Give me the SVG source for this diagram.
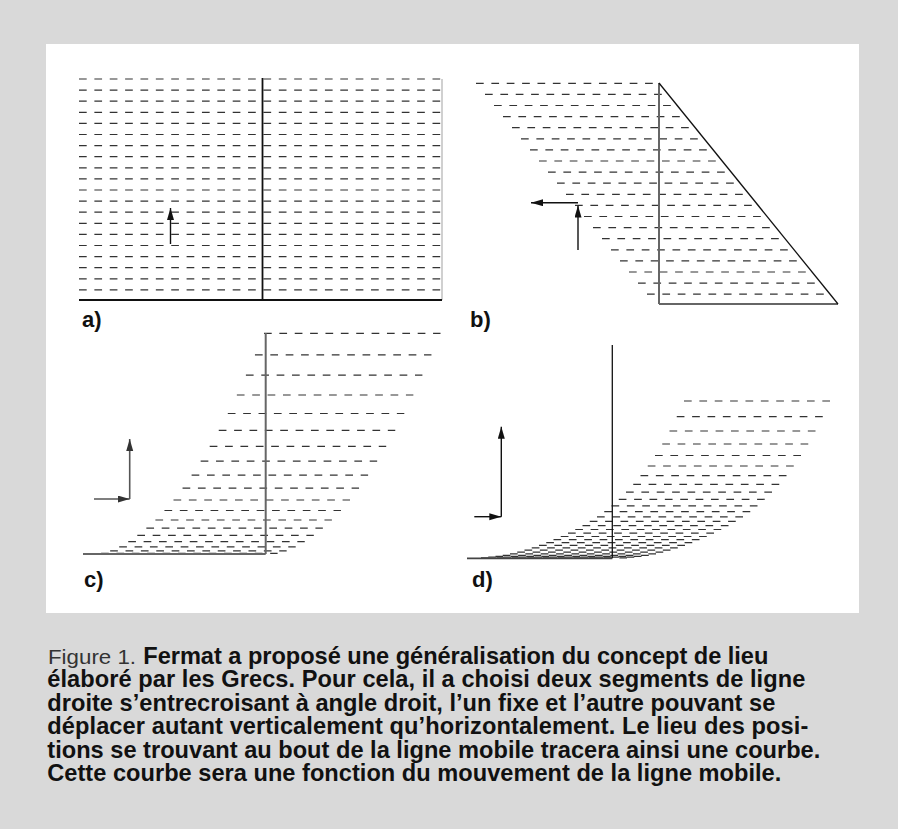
<svg xmlns="http://www.w3.org/2000/svg" width="898" height="829" viewBox="0 0 898 829">
<style>
.dash{stroke:#333;stroke-width:1.2;stroke-dasharray:7.7 7.67;fill:none}
.solid{stroke:#111;stroke-width:1.8;fill:none}
.grey{stroke:#666;stroke-width:2;fill:none}
.thin{stroke:#111;stroke-width:1.3;fill:none}
.arr{stroke:#111;stroke-width:1.4;fill:none;marker-end:url(#ah)}
.arrg{stroke:#555;stroke-width:1.6;fill:none;marker-end:url(#ahg)}
.lbl{font-family:"Liberation Sans",Arial,sans-serif;font-weight:bold;font-size:22px;fill:#111}
.cap{font-family:"Liberation Sans",Arial,sans-serif;font-weight:bold;font-size:23.6px;fill:#111}
.light{font-family:"Liberation Sans",Arial,sans-serif;font-weight:normal;font-size:21px;fill:#333}
</style>
<defs>
<marker id="ah" markerUnits="userSpaceOnUse" markerWidth="13" markerHeight="8" refX="12" refY="3.5" orient="auto"><path d="M0,0 L12,3.5 L0,7 z" fill="#111"/></marker>
<marker id="ahg" markerUnits="userSpaceOnUse" markerWidth="13" markerHeight="8" refX="12" refY="3.5" orient="auto"><path d="M0,0 L12,3.5 L0,7 z" fill="#333"/></marker>
</defs>
<rect x="0" y="0" width="898" height="829" fill="#d9d9d9"/>
<rect x="46" y="44" width="813" height="569" fill="#ffffff"/>

<g id="panel-a">
<g class="dash">
<line x1="79" y1="79" x2="441" y2="79"/>
<line x1="79" y1="90.1" x2="441" y2="90.1"/>
<line x1="79" y1="101.2" x2="441" y2="101.2"/>
<line x1="79" y1="112.3" x2="441" y2="112.3"/>
<line x1="79" y1="123.4" x2="441" y2="123.4"/>
<line x1="79" y1="134.5" x2="441" y2="134.5"/>
<line x1="79" y1="145.6" x2="441" y2="145.6"/>
<line x1="79" y1="156.7" x2="441" y2="156.7"/>
<line x1="79" y1="167.8" x2="441" y2="167.8"/>
<line x1="79" y1="178.9" x2="441" y2="178.9"/>
<line x1="79" y1="190" x2="441" y2="190"/>
<line x1="79" y1="201.1" x2="441" y2="201.1"/>
<line x1="79" y1="212.2" x2="441" y2="212.2"/>
<line x1="79" y1="223.3" x2="441" y2="223.3"/>
<line x1="79" y1="234.4" x2="441" y2="234.4"/>
<line x1="79" y1="245.5" x2="441" y2="245.5"/>
<line x1="79" y1="256.6" x2="441" y2="256.6"/>
<line x1="79" y1="267.7" x2="441" y2="267.7"/>
<line x1="79" y1="278.8" x2="441" y2="278.8"/>
<line x1="79" y1="289.9" x2="441" y2="289.9"/>
</g>
<line class="solid" x1="262.5" y1="78" x2="262.5" y2="300"/>
<line x1="442" y1="79" x2="442" y2="300" stroke="#aaa" stroke-width="1.1"/>
<line class="solid" x1="79" y1="300" x2="442" y2="300"/>
<line class="arr" x1="170.5" y1="244" x2="170.5" y2="208"/>
<text class="lbl" x="82" y="327">a)</text>
</g>

<g id="panel-b">
<g class="dash">
<line x1="476" y1="83.3" x2="654" y2="83.3"/>
<line x1="485" y1="94.4" x2="663" y2="94.4"/>
<line x1="494" y1="105.5" x2="672" y2="105.5"/>
<line x1="503" y1="116.6" x2="681" y2="116.6"/>
<line x1="512" y1="127.7" x2="690" y2="127.7"/>
<line x1="521" y1="138.8" x2="699" y2="138.8"/>
<line x1="530" y1="149.9" x2="708" y2="149.9"/>
<line x1="539" y1="161" x2="717" y2="161"/>
<line x1="548" y1="172.1" x2="726" y2="172.1"/>
<line x1="557" y1="183.2" x2="735" y2="183.2"/>
<line x1="566" y1="194.3" x2="744" y2="194.3"/>
<line x1="575" y1="205.4" x2="753" y2="205.4"/>
<line x1="584" y1="216.5" x2="762" y2="216.5"/>
<line x1="593" y1="227.6" x2="771" y2="227.6"/>
<line x1="602" y1="238.7" x2="780" y2="238.7"/>
<line x1="611" y1="249.8" x2="789" y2="249.8"/>
<line x1="620" y1="260.9" x2="798" y2="260.9"/>
<line x1="629" y1="272" x2="807" y2="272"/>
<line x1="638" y1="283.1" x2="816" y2="283.1"/>
<line x1="647" y1="294.2" x2="825" y2="294.2"/>
</g>
<line class="grey" x1="659" y1="83" x2="659" y2="304"/>
<line class="grey" x1="659" y1="304" x2="838" y2="304"/>
<line class="thin" x1="659" y1="83" x2="838" y2="304"/>
<line class="arr" x1="578" y1="250" x2="578" y2="205.5"/>
<line class="arr" x1="578" y1="202.7" x2="531" y2="202.7"/>
<text class="lbl" x="470" y="327">b)</text>
</g>

<g id="panel-c">
<g class="dash">
<line x1="264" y1="333.3" x2="440.5" y2="333.3"/>
<line x1="254.95" y1="354.8" x2="431.45" y2="354.8"/>
<line x1="245.9" y1="375.2" x2="422.4" y2="375.2"/>
<line x1="236.85" y1="395" x2="413.35" y2="395"/>
<line x1="227.8" y1="413.5" x2="404.3" y2="413.5"/>
<line x1="218.75" y1="430.3" x2="395.25" y2="430.3"/>
<line x1="209.7" y1="446.3" x2="386.2" y2="446.3"/>
<line x1="200.65" y1="461.2" x2="377.15" y2="461.2"/>
<line x1="191.6" y1="475.2" x2="368.1" y2="475.2"/>
<line x1="182.55" y1="488.2" x2="359.05" y2="488.2"/>
<line x1="173.5" y1="500" x2="350" y2="500"/>
<line x1="164.45" y1="510.5" x2="340.95" y2="510.5"/>
<line x1="155.4" y1="520" x2="331.9" y2="520"/>
<line x1="146.35" y1="528.2" x2="322.85" y2="528.2"/>
<line x1="137.3" y1="535.4" x2="313.8" y2="535.4"/>
<line x1="128.25" y1="541.6" x2="304.75" y2="541.6"/>
<line x1="119.2" y1="546.8" x2="295.7" y2="546.8"/>
<line x1="110.15" y1="550.8" x2="286.65" y2="550.8"/>
<line x1="101.1" y1="553.4" x2="277.6" y2="553.4"/>
</g>
<line class="grey" x1="265.7" y1="333" x2="265.7" y2="554"/>
<line class="grey" x1="83" y1="554" x2="265.7" y2="554"/>
<line class="arrg" x1="94" y1="499" x2="129.7" y2="499"/>
<line class="arrg" x1="129.7" y1="499" x2="129.7" y2="439"/>
<text class="lbl" x="84" y="587">c)</text>
</g>

<g id="panel-d">
<g class="dash">
<line x1="684" y1="401" x2="830" y2="401"/>
<line x1="676.75" y1="416.7" x2="822.75" y2="416.7"/>
<line x1="669.5" y1="431" x2="815.5" y2="431"/>
<line x1="662.25" y1="444" x2="808.25" y2="444"/>
<line x1="655" y1="455.5" x2="801" y2="455.5"/>
<line x1="647.75" y1="466" x2="793.75" y2="466"/>
<line x1="640.5" y1="475.6" x2="786.5" y2="475.6"/>
<line x1="633.25" y1="484.3" x2="779.25" y2="484.3"/>
<line x1="626" y1="492.2" x2="772" y2="492.2"/>
<line x1="618.75" y1="499.3" x2="764.75" y2="499.3"/>
<line x1="611.5" y1="505.8" x2="757.5" y2="505.8"/>
<line x1="604.25" y1="511.6" x2="750.25" y2="511.6"/>
<line x1="597" y1="516.8" x2="743" y2="516.8"/>
<line x1="589.75" y1="521.4" x2="735.75" y2="521.4"/>
<line x1="582.5" y1="525.6" x2="728.5" y2="525.6"/>
<line x1="575.25" y1="529.5" x2="721.25" y2="529.5"/>
<line x1="568" y1="533.1" x2="714" y2="533.1"/>
<line x1="560.75" y1="536.5" x2="706.75" y2="536.5"/>
<line x1="553.5" y1="539.7" x2="699.5" y2="539.7"/>
<line x1="546.25" y1="542.7" x2="692.25" y2="542.7"/>
<line x1="539" y1="545.4" x2="685" y2="545.4"/>
<line x1="531.75" y1="547.9" x2="677.75" y2="547.9"/>
<line x1="524.5" y1="550.2" x2="670.5" y2="550.2"/>
<line x1="517.25" y1="552.2" x2="663.25" y2="552.2"/>
<line x1="510" y1="553.9" x2="656" y2="553.9"/>
<line x1="502.75" y1="555.3" x2="648.75" y2="555.3"/>
<line x1="495.5" y1="556.4" x2="641.5" y2="556.4"/>
<line x1="488.25" y1="557.2" x2="634.25" y2="557.2"/>
<line x1="481" y1="557.8" x2="627" y2="557.8"/>
</g>
<line class="thin" x1="612.3" y1="345" x2="612.3" y2="558.3"/>
<line x1="467" y1="558.3" x2="612.3" y2="558.3" stroke="#444" stroke-width="1.8"/>
<line class="arr" x1="474.3" y1="516.7" x2="501.3" y2="516.7"/>
<line class="arr" x1="501.3" y1="516.7" x2="501.3" y2="426.7"/>
<text class="lbl" x="472" y="587">d)</text>
</g>

<g id="caption">
<text class="cap" y="663.5"><tspan class="light" x="48" textLength="88" lengthAdjust="spacingAndGlyphs">Figure 1.</tspan><tspan x="143.3" textLength="625">Fermat a proposé une généralisation du concept de lieu</tspan></text>
<text class="cap" x="47.3" y="687" textLength="758">élaboré par les Grecs. Pour cela, il a choisi deux segments de ligne</text>
<text class="cap" x="47.3" y="710.5" textLength="728">droite s’entrecroisant à angle droit, l’un fixe et l’autre pouvant se</text>
<text class="cap" x="47.3" y="734" textLength="761">déplacer autant verticalement qu’horizontalement. Le lieu des posi-</text>
<text class="cap" x="47.3" y="757.5" textLength="773">tions se trouvant au bout de la ligne mobile tracera ainsi une courbe.</text>
<text class="cap" x="47.3" y="781" textLength="734">Cette courbe sera une fonction du mouvement de la ligne mobile.</text>
</g>
</svg>
